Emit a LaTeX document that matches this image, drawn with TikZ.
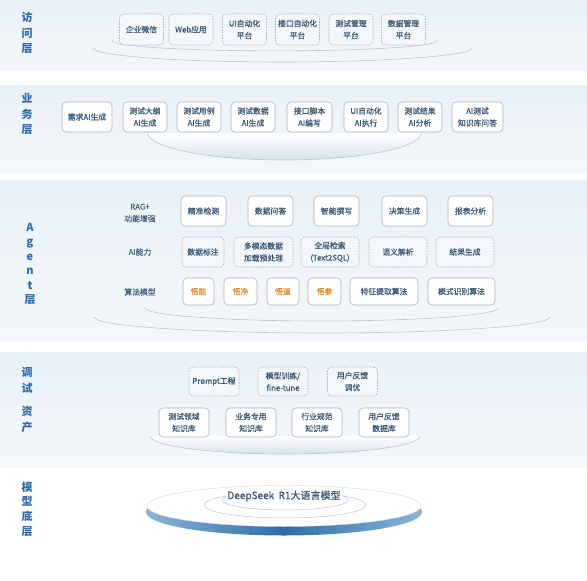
\documentclass[tikz,border=0pt]{standalone}
\usepackage{fontspec}
\setmainfont{Noto Sans CJK SC}
\newfontfamily\boxfont{Noto Sans CJK SC}[FakeBold=0.6]
\usepackage{tikz}
\usetikzlibrary{positioning,shapes.geometric}
\definecolor{lyrblue}{HTML}{2A6BAE}
\definecolor{boxtxt}{HTML}{3A5775}
\definecolor{rowtxt}{HTML}{46627F}
\definecolor{boxline}{HTML}{A8B3BE}
\definecolor{wuorange}{HTML}{E0892E}
\definecolor{bandtop}{HTML}{E9F1F7}
\definecolor{bandbot}{HTML}{F3F7FA}
\definecolor{ringgray}{HTML}{BCC6CE}
\definecolor{ringfill}{HTML}{D6E2EC}
\definecolor{rimlight}{HTML}{8DB4D8}
\definecolor{rimdark}{HTML}{2F6DA8}
\tikzset{
  band/.style    = {top color=bandtop, bottom color=bandbot, draw=none},
  lyr/.style     = {text=lyrblue, align=center, inner sep=0pt,
                    font=\fontsize{11}{15.5}\selectfont\bfseries},
  blk/.style     = {draw=boxline, line width=0.6pt, rounded corners=4pt, fill=white,
                    text=boxtxt, align=center, inner sep=2pt, minimum height=30pt,
                    font=\boxfont\fontsize{7.8}{12}\selectfont},
  dblk/.style    = {blk, dash pattern=on 1.6pt off 1.2pt, fill=white!45!bandtop},
  wublk/.style   = {blk, text=wuorange, minimum height=27pt},
  rowlbl/.style  = {text=rowtxt, align=center, inner sep=1pt,
                    font=\boxfont\fontsize{7.8}{12}\selectfont},
  ring/.style    = {draw=ringgray, line width=0.6pt},
  base/.style    = {text=boxtxt, inner sep=1pt, fill=white,
                    font=\boxfont\fontsize{10}{12}\selectfont}
}

\begin{document}
\begin{tikzpicture}[x=1pt, y=-1pt]
\useasboundingbox (0,0) rectangle (587,581);
\fill[white] (0,0) rectangle (587,581);

% ---------------- bands ----------------
\shade[band] (0,0)   rectangle (587,70);
\shade[band] (0,85)  rectangle (587,172);
\shade[band] (0,180) rectangle (587,340);
\shade[band] (0,352) rectangle (587,467);

% ---------------- layer labels ----------------
\node[lyr] (l1) at (27,33)  {访\\问\\层};
\node[lyr] (l2) at (27,114) {业\\务\\层};
\node[lyr, font=\fontsize{11}{14.5}\selectfont\bfseries] (l3) at (30,264)
      {A\\g\\e\\n\\t\\层};
\node[lyr] (l4) at (27,400) {调\\试\\[8pt]资\\产};
\node[lyr, font=\fontsize{11}{14.7}\selectfont\bfseries] (l5) at (27,509)
      {模\\型\\底\\层};

% ---------------- rings behind the boxes ----------------
\draw[ring] (93,48) arc[start angle=180, end angle=0, x radius=189.5, y radius=14];
\draw[ring] (113,40) arc[start angle=185, end angle=-5, x radius=162.5, y radius=10];
\shade[top color=white, bottom color=ringfill]
      (148,133) arc[start angle=180, end angle=0, x radius=136.5, y radius=27];
\draw[ring] (148,133) arc[start angle=180, end angle=0, x radius=136.5, y radius=27];
\draw[ring] (94,317) arc[start angle=180, end angle=0, x radius=228, y radius=16];
\draw[ring] (145,308) arc[start angle=180, end angle=0, x radius=176.5, y radius=13];
\shade[top color=white, bottom color=ringfill]
      (150,436) arc[start angle=180, end angle=0, x radius=135, y radius=18];
\draw[ring] (150,436) arc[start angle=180, end angle=0, x radius=135, y radius=18];

% ---------------- access layer ----------------
\node[dblk, minimum width=44pt, minimum height=31pt] (wx)   at (141.5,29.5) {企业微信};
\node[dblk, minimum width=44pt, minimum height=31pt] (web)  at (191,29.5)   {Web应用};
\node[dblk, minimum width=44pt, minimum height=31pt] (uip)  at (244.5,29.5) {UI自动化\\平台};
\node[dblk, minimum width=44pt, minimum height=31pt] (apip) at (297.5,29.5) {接口自动化\\平台};
\node[dblk, minimum width=44pt, minimum height=31pt] (tmp)  at (351,29.5)   {测试管理\\平台};
\node[dblk, minimum width=44pt, minimum height=31pt] (dmp)  at (403.5,29.5) {数据管理\\平台};

% ---------------- business layer ----------------
\node[blk, minimum width=50pt] (req)  at (87,117)    {需求AI生成};
\node[blk, minimum width=44pt] (out)  at (145,117)   {测试大纲\\AI生成};
\node[blk, minimum width=44pt] (case) at (199,117)   {测试用例\\AI生成};
\node[blk, minimum width=44pt] (tdat) at (253,117)   {测试数据\\AI生成};
\node[blk, minimum width=45pt] (scr)  at (309.5,117) {接口脚本\\AI编写};
\node[blk, minimum width=44pt] (uix)  at (366,117)   {UI自动化\\AI执行};
\node[blk, minimum width=44pt] (res)  at (420,117)   {测试结果\\AI分析};
\node[blk, minimum width=51pt] (kqa)  at (477.5,117) {AI测试\\知识库问答};

% ---------------- agent layer ----------------
\node[rowlbl] (rag)  at (140,213) {RAG+\\功能增强};
\node[rowlbl] (aic)  at (140,252) {AI能力};
\node[rowlbl] (alg)  at (140,292) {算法模型};

\node[blk, minimum width=45pt] (det)  at (203.5,211) {精准检测};
\node[blk, minimum width=45pt] (dqa)  at (270.5,211) {数据问答};
\node[blk, minimum width=45pt] (wri)  at (336.5,211) {智能撰写};
\node[blk, minimum width=45pt] (dec)  at (404.5,211) {决策生成};
\node[blk, minimum width=45pt] (rep)  at (470.5,211) {报表分析};

\node[dblk, minimum width=42pt] (lab)  at (203,252)   {数据标注};
\node[dblk, minimum width=59pt] (mm)   at (263.5,252) {多模态数据\\加载预处理};
\node[dblk, minimum width=58pt] (gs)   at (330,252)   {全局检索\\(Text2SQL)};
\node[dblk, minimum width=58pt] (sem)  at (398,252)   {语义解析};
\node[dblk, minimum width=58pt] (gen)  at (465,252)   {结果生成};

\node[wublk, minimum width=31pt] (wn)   at (198.5,291.5) {悟能};
\node[wublk, minimum width=33pt] (wj)   at (240.5,291.5) {悟净};
\node[wublk, minimum width=32pt] (wd)   at (283,291.5)   {悟道};
\node[wublk, minimum width=33pt] (wc)   at (324.5,291.5) {悟参};
\node[blk, minimum width=68pt, minimum height=27pt] (fea) at (384,291.5)   {特征提取算法};
\node[blk, minimum width=67pt, minimum height=27pt] (pat) at (461.5,291.5) {模式识别算法};

% ---------------- tuning assets ----------------
\node[dblk, minimum width=50pt, minimum height=29pt] (pe)  at (214,381.5)   {Prompt工程};
\node[dblk, minimum width=50pt, minimum height=29pt] (ft)  at (283,381.5)   {模型训练/\\fine-tune};
\node[dblk, minimum width=50pt, minimum height=29pt] (fb)  at (352.5,381.5) {用户反馈\\调优};

\node[blk, minimum width=50pt, minimum height=29pt] (kb1) at (184,422.5) {测试领域\\知识库};
\node[blk, minimum width=50pt, minimum height=29pt] (kb2) at (251,422.5) {业务专用\\知识库};
\node[blk, minimum width=50pt, minimum height=29pt] (kb3) at (317,422.5) {行业规范\\知识库};
\node[blk, minimum width=50pt, minimum height=29pt] (kb4) at (384,422.5) {用户反馈\\数据库};

% ---------------- model base ----------------
\shade[left color=rimlight, right color=rimlight, middle color=rimdark]
      (284,512) ellipse[x radius=138, y radius=23.5];
\fill[white, draw=ringgray!70, line width=0.4pt]
      (284,506) ellipse[x radius=137, y radius=20.5];
\draw[ring, line width=0.5pt] (285,505) ellipse[x radius=81, y radius=13];
\draw[ring, line width=0.5pt] (285,500) ellipse[x radius=63, y radius=10];
\node[base] (ds) at (284,496) {DeepSeek\ \ R1大语言模型};

\end{tikzpicture}
\end{document}
